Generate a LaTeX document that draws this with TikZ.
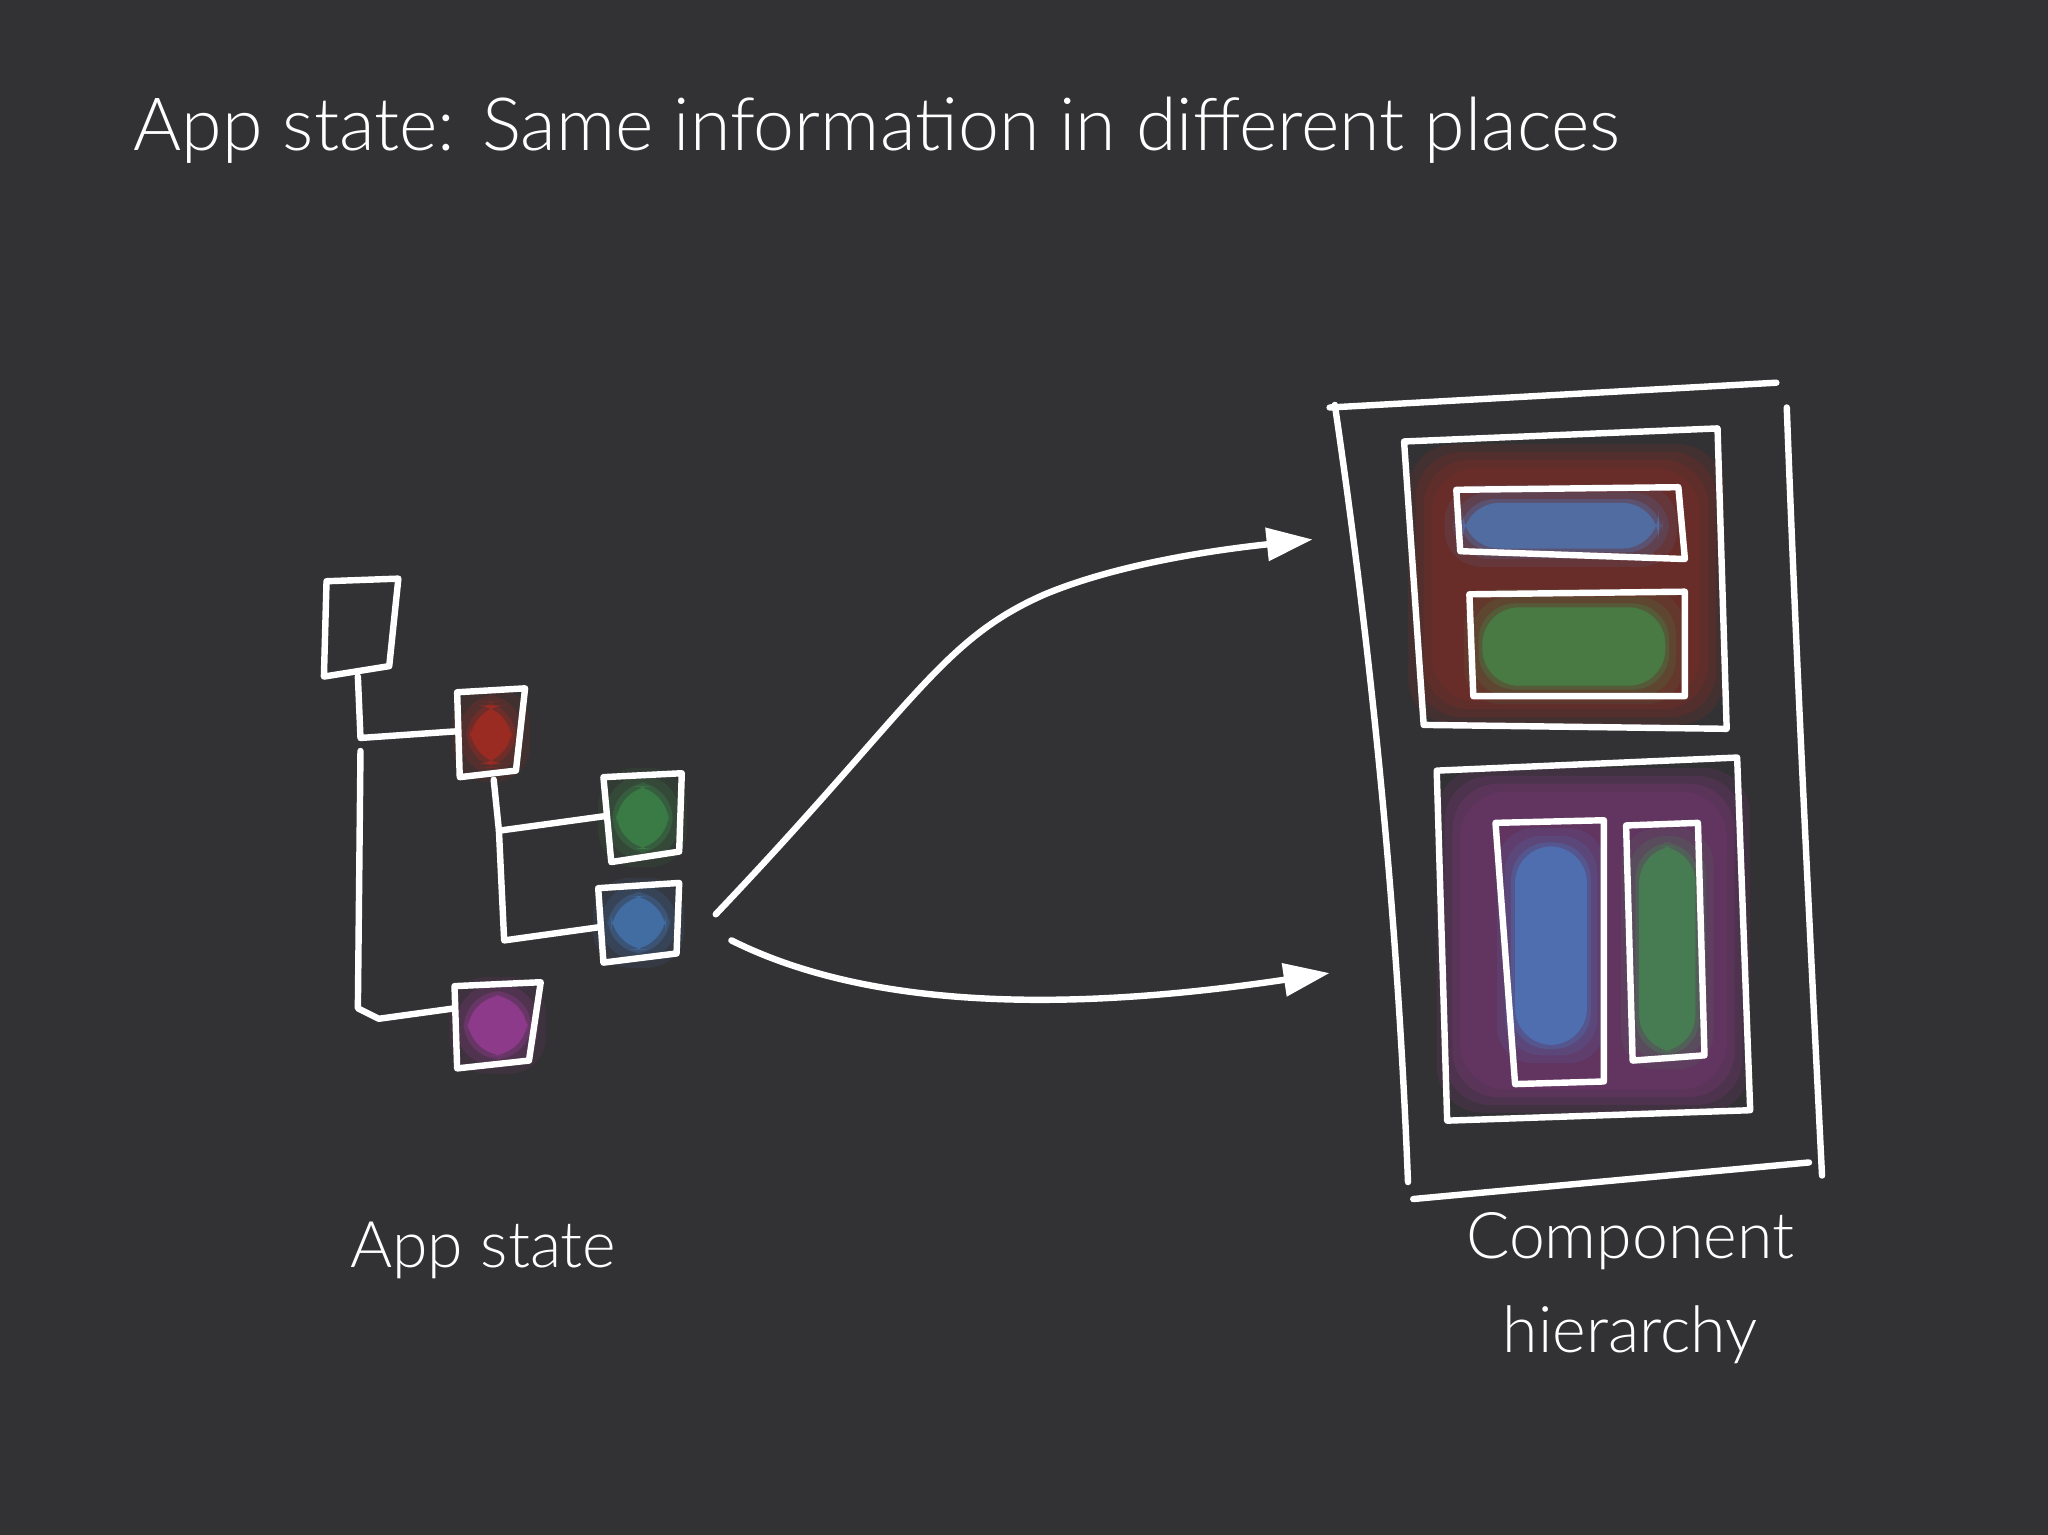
\documentclass[tikz,border=0pt]{standalone}
\usepackage{fontspec}
\setmainfont{Lato Light}
\usetikzlibrary{arrows.meta}
\definecolor{bg}{HTML}{323133}
\definecolor{gred}{HTML}{C42A1E}
\definecolor{ggreen}{HTML}{3E9A4E}
\definecolor{gblue}{HTML}{4A86D0}
\definecolor{gmag}{HTML}{B23FAE}
\tikzset{
  chalk/.style={draw=white,line width=1.4pt,line cap=round,line join=round},
  lbl/.style={text=white,font=\fontsize{14}{16}\selectfont,anchor=center},
  arr/.style={chalk,-{Triangle[length=10pt,width=7pt]}},
}
\newcommand{\glow}[5]{% color, x1,y1,x2,y2
  \foreach \o/\w in {0.1/14,0.15/8,0.25/3,0.5/0}{
    \fill[#1,opacity=\o,rounded corners=8] (#2-\w,#3-\w) rectangle (#4+\w,#5+\w);}
}
\newcommand{\softglow}[5]{% big frame glow
  \foreach \o/\w in {0.12/10,0.12/4,0.12/-2,0.1/-8}{
    \fill[#1,opacity=\o,rounded corners=10] (#2-\w,#3-\w) rectangle (#4+\w,#5+\w);}
}
\begin{document}
\begin{tikzpicture}[x=0.01cm,y=-0.01cm]
\fill[bg] (0,0) rectangle (1568,1175);
\useasboundingbox (0,0) rectangle (1568,1175);
\node[text=white,anchor=base west,font=\fontsize{16}{19}\selectfont] (title) at (90,115) {App state: Same information in different places};
% tree
\glow{gred}{360}{540}{392}{585}
\glow{ggreen}{472}{602}{512}{650}
\glow{gblue}{468}{686}{510}{727}
\glow{gmag}{358}{762}{404}{808}
\draw[chalk] (250,445) -- (305,443) -- (298,510) -- (248,518) -- cycle;
\draw[chalk] (350,530) -- (402,527) -- (395,590) -- (352,595) -- cycle;
\draw[chalk] (462,595) -- (522,592) -- (520,652) -- (468,660) -- cycle;
\draw[chalk] (458,680) -- (520,676) -- (518,730) -- (462,737) -- cycle;
\draw[chalk] (348,755) -- (414,752) -- (405,812) -- (350,818) -- cycle;
\coordinate (r) at (274,518);
\draw[chalk] (r) -- (276,565) -- (348,560);
\draw[chalk] (276,575) -- (274,772) -- (290,780) -- (348,772);
\draw[chalk] (378,597) -- (382,636) -- (462,625);
\draw[chalk] (382,636) -- (386,720) -- (458,710);
% arrows
\coordinate (a1) at (548,700);
\coordinate (a2) at (560,720);
\coordinate (t1) at (1005,413);
\coordinate (t2) at (1018,745);
\draw[arr] (a1) .. controls (700,540) and (720,490) .. (800,455) .. controls (860,430) and (940,420) .. (t1);
\draw[arr] (a2) .. controls (680,780) and (850,770) .. (t2);
% component hierarchy
\softglow{gred}{1088}{350}{1310}{545}
\softglow{gmag}{1110}{598}{1330}{842}
\glow{gblue}{1120}{385}{1270}{420}
\glow{ggreen}{1135}{465}{1275}{525}
\glow{gblue}{1160}{648}{1215}{800}
\glow{ggreen}{1255}{648}{1298}{805}
\draw[chalk] (1018,312) -- (1360,293);
\draw[chalk] (1022,310) .. controls (1050,500) and (1070,700) .. (1078,905);
\draw[chalk] (1368,312) .. controls (1375,500) and (1385,700) .. (1395,900);
\draw[chalk] (1082,918) -- (1385,890);
\draw[chalk] (1075,338) -- (1315,328) -- (1322,558) -- (1090,555) -- cycle;
\draw[chalk] (1115,375) -- (1285,373) -- (1290,428) -- (1118,422) -- cycle;
\draw[chalk] (1125,455) -- (1290,453) -- (1290,533) -- (1128,533) -- cycle;
\draw[chalk] (1100,590) -- (1330,580) -- (1340,850) -- (1108,858) -- cycle;
\draw[chalk] (1145,630) -- (1228,628) -- (1228,828) -- (1160,830) -- cycle;
\draw[chalk] (1245,632) -- (1300,630) -- (1305,808) -- (1250,812) -- cycle;
\node[lbl] (lapp) at (370,957) {App state};
\node[lbl] (lcomp) at (1248,950) {Component};
\node[lbl] (lhier) at (1248,1022) {hierarchy};
\end{tikzpicture}
\end{document}
